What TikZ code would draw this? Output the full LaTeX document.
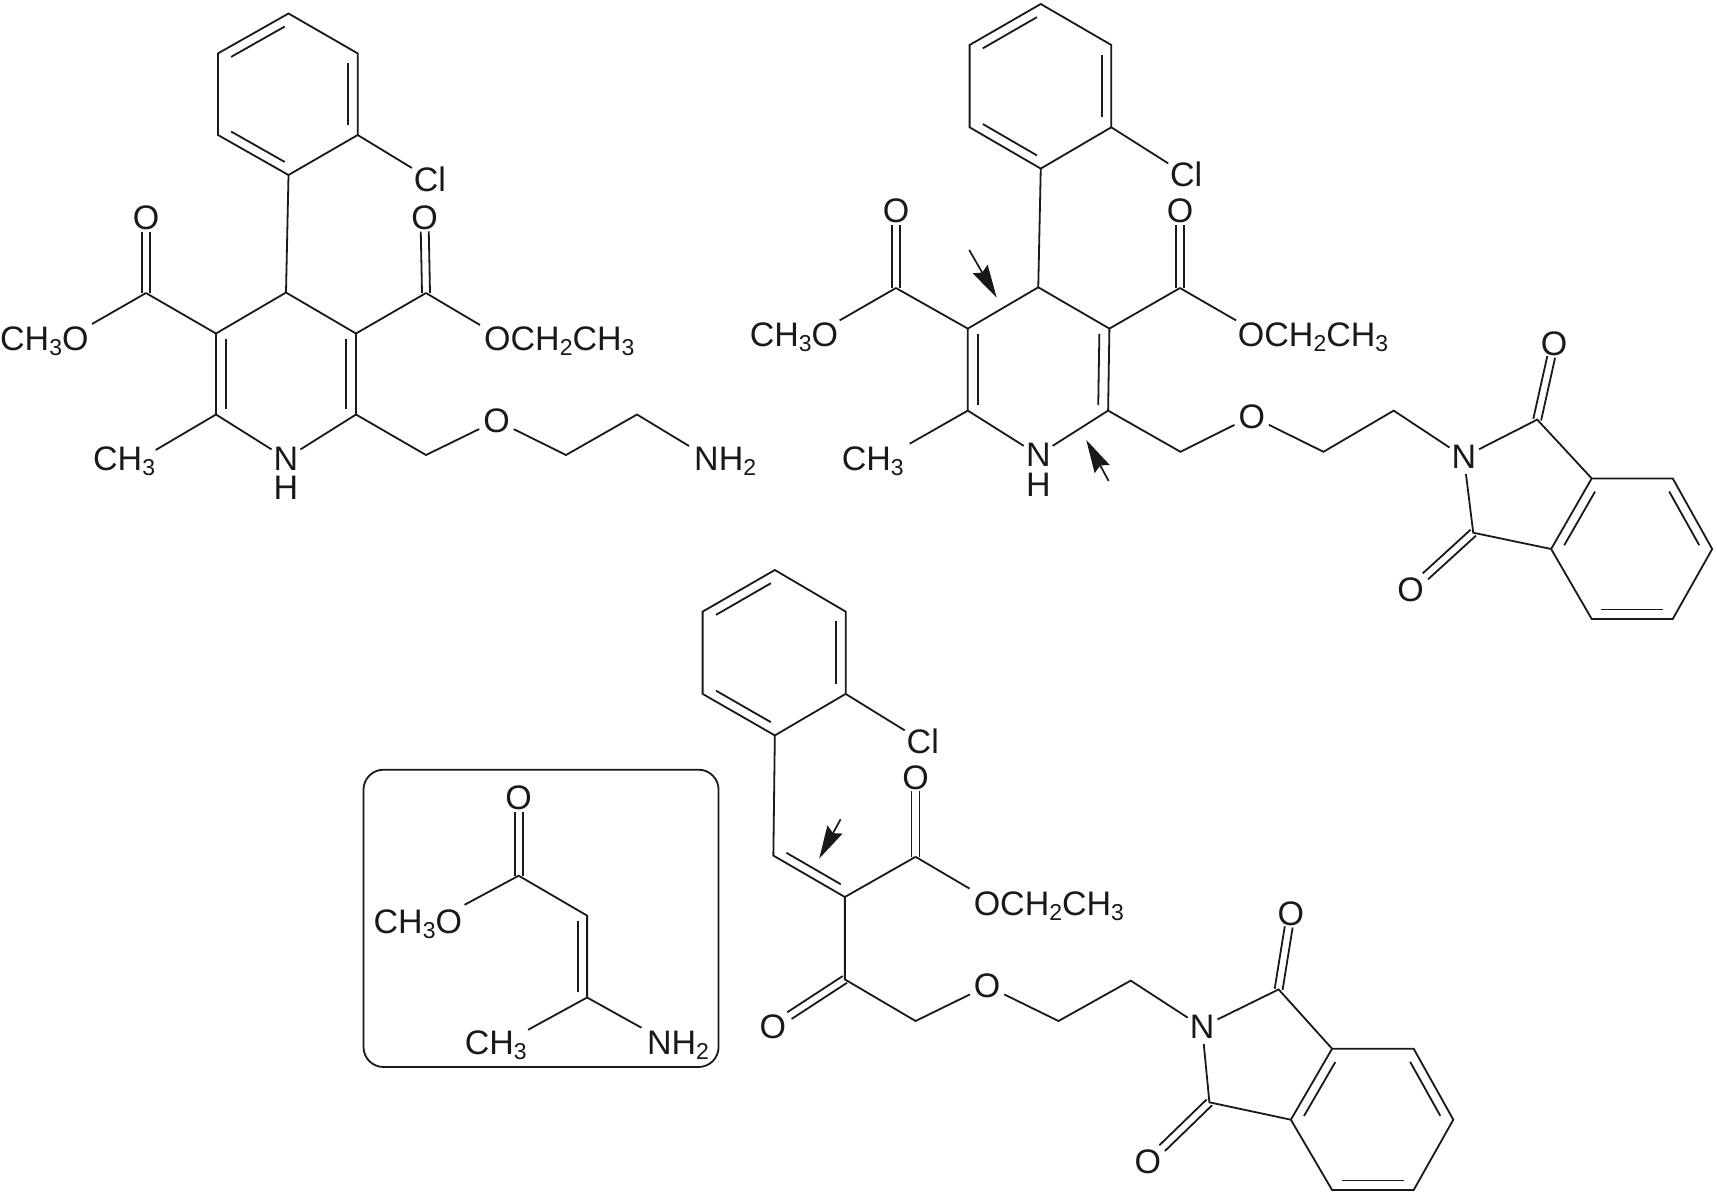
\documentclass[tikz,border=0pt]{standalone}
\usepackage{fontspec}
\setmainfont{Liberation Sans}
\usetikzlibrary{calc,arrows.meta}
\newcommand{\lab}{\fontsize{34}{34}\selectfont}
\newcommand{\sbs}[1]{\raisebox{-5.5pt}{\fontsize{23}{23}\selectfont #1}}
% inner line of a ring double bond: from, to, offset to the left of travel
\newcommand{\innerbond}[3]{\draw[bond] ($($(#1)!0.12!(#2)$)!#3!90:(#2)$) -- ($($(#2)!0.12!(#1)$)!#3!-90:(#1)$);}
% same, barely shortened (central ring)
\newcommand{\longinner}[3]{\draw[bond] ($($(#1)!0.065!(#2)$)!#3!90:(#2)$) -- ($($(#2)!0.065!(#1)$)!#3!-90:(#1)$);}
% carbonyl double bond: carbon, oxygen node, stop distance from the oxygen centre
\newcommand{\carbonyl}[3]{\draw[bond] ($(#1)!4pt!90:(#2)$) -- ($($(#2)!#3!(#1)$)!4pt!-90:(#1)$);
  \draw[bond] ($(#1)!4pt!-90:(#2)$) -- ($($(#2)!#3!(#1)$)!4pt!90:(#1)$);}
\tikzset{
  bond/.style={line width=1.8pt,black!90,line join=miter},
  atomlabel/.style={circle,inner sep=0pt,font=\lab,text=black!90},
  grouplabel/.style={inner sep=0pt,font=\lab,text=black!90,anchor=base west},
  marker/.style={line width=1.7pt,black!90,-{Stealth[length=33pt,width=17pt,inset=4pt]}},
  insetbox/.style={line width=1.8pt,black!90,rounded corners=20pt}
}
\begin{document}
\begin{tikzpicture}[x=1pt,y=-1pt]
\useasboundingbox (0,0) rectangle (1717,1192);
\fill[white] (0,0) rectangle (1717,1192);

% ===== Molecule 1 =====
\foreach \n/\x/\y in {a1/288.5/13.5,a2/357.7/53.4,a3/357.7/135,a4/288.5/175,a5/218/135,a6/218/53.4,
  c4/286/292.5,c3/216/333.5,c5/356/333.5,c2/216/414.5,c6/356/414.5,
  el/146/293,er/426/293,m1/426/455,m2/566/455,m3/637/414.5,
  eCH/155.7/450,eOM/92/324,eOE/480/325,eNH/689/446}
  \coordinate (\n) at (\x,\y);
\node[atomlabel,minimum size=42pt] (cl1) at (430,179) {Cl};
\node[atomlabel,minimum size=32pt] (n1) at (286,458.5) {N};
\node[grouplabel,anchor=center] (h1) at (286,488) {H};
\node[atomlabel,minimum size=36pt] (ol) at (146,218) {O};
\node[atomlabel,minimum size=36pt] (orr) at (424.5,218) {O};
\node[atomlabel,minimum size=38pt] (oa) at (496.5,420.6) {O};
\node[grouplabel] (tm1) at (93,470) {CH\sbs{3}};
\node[grouplabel] (to1) at (0,350) {CH\sbs{3}O};
\node[grouplabel] (te1) at (484,350) {OCH\sbs{2}CH\sbs{3}};
\node[grouplabel] (tn1) at (694,470) {NH\sbs{2}};
\draw[bond] (a1)--(a2)--(a3)--(a4)--(a5)--(a6)--cycle;
\innerbond{a1}{a6}{9.5pt}\innerbond{a5}{a4}{9.5pt}\innerbond{a3}{a2}{9.5pt}
\draw[bond] (a3)--(cl1);
\draw[bond] (a4)--(c4);
\draw[bond] (c2)--(c3)--(c4)--(c5)--(c6);
\draw[bond] (c2)--(n1); \draw[bond] (c6)--(n1);
\longinner{c3}{c2}{10pt}\longinner{c6}{c5}{10pt}
\draw[bond] (c2)--(eCH);
\draw[bond] (c3)--(el); \draw[bond] (el)--(eOM);
\draw[bond] (c5)--(er); \draw[bond] (er)--(eOE);
\carbonyl{el}{ol}{13.5pt}\carbonyl{er}{orr}{13.5pt}
\draw[bond] (c6)--(m1)--(oa); \draw[bond] (oa)--(m2)--(m3)--(eNH);

% ===== Molecule 2 =====
\begin{scope}[xshift=2.6pt,xscale=0.9965]
\foreach \n/\x/\y in {b1/1041.8/4,b2/1112.6/45,b3/1112.6/127.3,b4/1041.8/168.6,b5/970.4/127.3,b6/970.4/45,
  d4/1039.3/287.3,d3/968.6/328.6,d5/1110.7/328.6,d2/968.6/410.6,d6/1109.4/410.6,
  fl/896.5/288,fr/1181.5/288,p1/1182/451.8,p2/1325.5/451.8,p3/1396/410.6,
  fCH/910.3/443.7,fOM/840/320.4,fOE/1237.8/320.4,
  q1/1540/419.6,q2/1475.8/532.7,r1/1594.7/478.4,r2/1676/478.4,r3/1715.6/549,r4/1676/619,r5/1594.7/619,r6/1554/549,
  arA/970/250,arAt/997.6/297.7,arB/1110/481,arBt/1087.5/440}
  \coordinate (\n) at (\x,\y);
\node[atomlabel,minimum size=42pt] (cl2) at (1187.7,174.7) {Cl};
\node[atomlabel,minimum size=32pt] (n2) at (1039.3,455) {N};
\node[grouplabel,anchor=center] (h2) at (1039.3,484.5) {H};
\node[atomlabel,minimum size=36pt] (o2l) at (896.5,211) {O};
\node[atomlabel,minimum size=36pt] (o2r) at (1181.5,211) {O};
\node[atomlabel,minimum size=38pt] (o2a) at (1253.5,416.3) {O};
\node[atomlabel,minimum size=34pt] (n2b) at (1466.4,457) {N};
\node[atomlabel,minimum size=36pt] (o2u) at (1557,343.7) {O};
\node[atomlabel,minimum size=36pt] (o2d) at (1413,589.8) {O};
\node[grouplabel] (tm2) at (842,470) {CH\sbs{3}};
\node[grouplabel] (to2) at (749.6,346) {CH\sbs{3}O};
\node[grouplabel] (te2) at (1239.5,346) {OCH\sbs{2}CH\sbs{3}};
\draw[bond] (b1)--(b2)--(b3)--(b4)--(b5)--(b6)--cycle;
\innerbond{b1}{b6}{9.5pt}\innerbond{b5}{b4}{9.5pt}\innerbond{b3}{b2}{9.5pt}
\draw[bond] (b3)--(cl2);
\draw[bond] (b4)--(d4);
\draw[bond] (d2)--(d3)--(d4)--(d5)--(d6);
\draw[bond] (d2)--(n2); \draw[bond] (d6)--(n2);
\longinner{d3}{d2}{10pt}\longinner{d6}{d5}{10pt}
\draw[bond] (d2)--(fCH);
\draw[bond] (d3)--(fl); \draw[bond] (fl)--(fOM);
\draw[bond] (d5)--(fr); \draw[bond] (fr)--(fOE);
\carbonyl{fl}{o2l}{13.5pt}\carbonyl{fr}{o2r}{13.5pt}
\draw[bond] (d6)--(p1)--(o2a); \draw[bond] (o2a)--(p2)--(p3)--(n2b);
\draw[bond] (n2b)--(q1)--(r1)--(r2)--(r3)--(r4)--(r5)--(r6)--(q2)--(n2b);
\draw[bond] (r1)--(r6);
\innerbond{r1}{r6}{9.5pt}\innerbond{r3}{r2}{9.5pt}\innerbond{r5}{r4}{9.5pt}
\carbonyl{q1}{o2u}{13.5pt}\carbonyl{q2}{o2d}{20pt}
\draw[marker] (arA)--(arAt);
\draw[marker] (arB)--(arBt);
\end{scope}

% ===== Molecule 3 and inset =====
\begin{scope}[xshift=0.46pt,xscale=0.996]
\foreach \n/\x/\y in {s1/777.5/570,s2/848.6/611.6,s3/848.6/693.9,s4/777.5/735.4,s5/705/693.9,s6/705/611.6,
  v1/776/855.6,v2/847.8/897,g1/918.8/856.8,k1/847.8/979.4,t1/918.8/1021,t2/1062.3/1021,t3/1134.8/980.6,
  gOE/973/888.6,
  w1/1283.3/989.4,w2/1213.8/1102.3,u1/1337/1048.7,u2/1418.9/1048.7,u3/1458.7/1119.7,u4/1418.9/1190,u5/1337/1190,u6/1295.6/1119.7,
  arC/843.5/819.3,arCt/822/858.6}
  \coordinate (\n) at (\x,\y);
\node[atomlabel,minimum size=42pt] (cl3) at (926,741.5) {Cl};
\node[atomlabel,minimum size=36pt] (o3e) at (918.8,777.7) {O};
\node[atomlabel,minimum size=36pt] (o3k) at (775.4,1026.5) {O};
\node[atomlabel,minimum size=38pt] (o3a) at (990.6,986) {O};
\node[atomlabel,minimum size=34pt] (n3) at (1206.5,1027) {N};
\node[atomlabel,minimum size=36pt] (o3u) at (1295.6,913.6) {O};
\node[atomlabel,minimum size=36pt] (o3d) at (1152,1162) {O};
\node[grouplabel] (te3) at (977,915) {OCH\sbs{2}CH\sbs{3}};
\draw[bond] (s1)--(s2)--(s3)--(s4)--(s5)--(s6)--cycle;
\innerbond{s1}{s6}{9.5pt}\innerbond{s5}{s4}{9.5pt}\innerbond{s3}{s2}{9.5pt}
\draw[bond] (s3)--(cl3);
\draw[bond] (s4)--(v1)--(v2)--(g1);
\innerbond{v1}{v2}{9pt}
\draw[bond] (g1)--(gOE);
\carbonyl{g1}{o3e}{13.5pt}
\draw[bond] (v2)--(k1)--(t1)--(o3a); \draw[bond] (o3a)--(t2)--(t3)--(n3);
\carbonyl{k1}{o3k}{20pt}
\draw[bond] (n3)--(w1)--(u1)--(u2)--(u3)--(u4)--(u5)--(u6)--(w2)--(n3);
\draw[bond] (u1)--(u6);
\innerbond{u1}{u6}{9.5pt}\innerbond{u3}{u2}{9.5pt}\innerbond{u5}{u4}{9.5pt}
\carbonyl{w1}{o3u}{13.5pt}\carbonyl{w2}{o3d}{20pt}
\draw[marker] (arC)--(arCt);

% inset
\draw[insetbox] (364.5,769.7) rectangle (721,1067);
\foreach \n/\x/\y in {i1/520.3/875.7,i2/589/915.6,i3/589/997.5,iOM/466/904.8,iCH/529.7/1029.8,iNH/643.5/1027.7}
  \coordinate (\n) at (\x,\y);
\node[atomlabel,minimum size=36pt] (o4) at (520.3,798) {O};
\node[grouplabel] (to4) at (374.5,933) {CH\sbs{3}O};
\node[grouplabel] (tm4) at (466,1054) {CH\sbs{3}};
\node[grouplabel] (tn4) at (649,1054) {NH\sbs{2}};
\carbonyl{i1}{o4}{13.5pt}
\draw[bond] (iOM)--(i1)--(i2)--(i3)--(iNH);
\draw[bond] (i3)--(iCH);
\longinner{i2}{i3}{-9.5pt}
\end{scope}
\end{tikzpicture}
\end{document}
